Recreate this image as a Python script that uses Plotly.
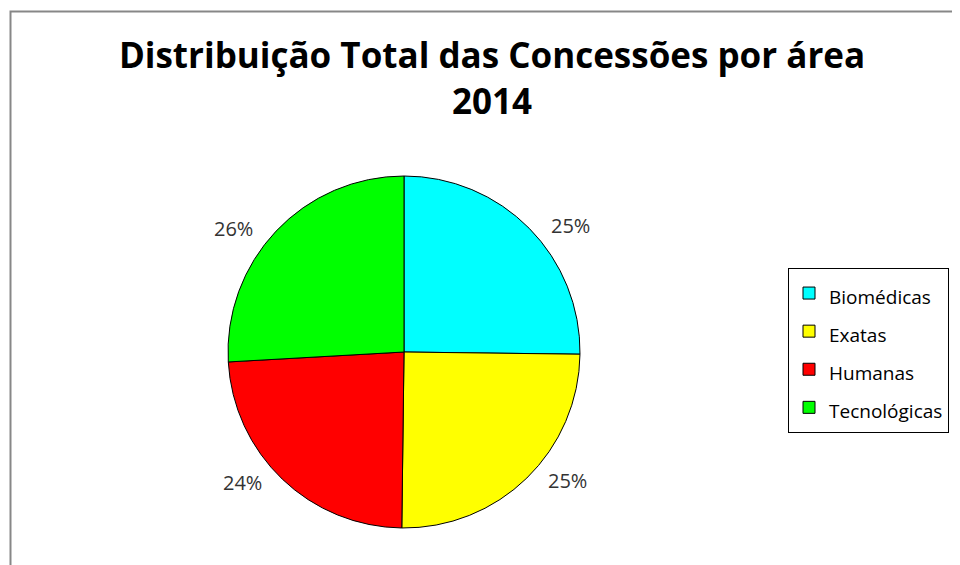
import math
import plotly.graph_objects as go

# ---- data ----
categories = ["Biomédicas", "Exatas", "Humanas", "Tecnológicas"]
values = [25.2, 25.0, 23.9, 25.9]
colors = ["#00FFFF", "#FFFF00", "#FF0000", "#00FF00"]
title_lines = ["Distribuição Total das Concessões por área", "2014"]

W, H = 960, 565
OFF = 8  # page body margin of the browser
FONT = "Open Sans"


def px_x(x):
    return (x - OFF) / W


def px_y(y):
    return 1 - (y - OFF) / H


# pie geometry in screen pixels (layout only)
cx_px, cy_px, r_px = 404, 352, 176
dom_x = [px_x(cx_px - r_px), px_x(cx_px + r_px)]
dom_y = [px_y(cy_px + r_px), px_y(cy_px - r_px)]

fig = go.Figure(
    go.Pie(
        labels=[f'<span style="font-size:19px">{c}</span>' for c in categories],
        values=values,
        marker=dict(colors=colors, line=dict(color="#000000", width=1)),
        sort=False,
        direction="clockwise",
        rotation=0,
        textinfo="none",
        hoverinfo="percent",
        domain=dict(x=dom_x, y=dom_y),
    )
)

# percentage labels placed around the pie, computed from the data
total = sum(values)
cum = 0.0
Rx, Ry = 234, 180
annotations = []
for v in values:
    mid = (cum + v / 2) / total * 2 * math.pi
    cum += v
    pct = round(v / total * 100)
    annotations.append(
        dict(
            x=px_x(cx_px + Rx * math.sin(mid)),
            y=px_y(cy_px - Ry * math.cos(mid)),
            xref="paper", yref="paper",
            text=f"{pct}%", showarrow=False,
            font=dict(family=FONT, size=20, color="#333333"),
            xanchor="center", yanchor="middle",
        )
    )

fig.update_layout(
    width=W,
    height=H,
    margin=dict(l=0, r=0, t=0, b=0),
    paper_bgcolor="white",
    plot_bgcolor="white",
    font=dict(family=FONT, color="#000000"),
    title=dict(
        text="<br>".join(title_lines),
        x=px_x(492),
        xanchor="center",
        y=px_y(68),
        yanchor="top",
        font=dict(family=FONT, size=35, color="#000000", weight="bold"),
    ),
    showlegend=True,
    legend=dict(
        x=px_x(788),
        y=px_y(268),
        xanchor="left",
        yanchor="top",
        bordercolor="#000000",
        borderwidth=1,
        bgcolor="white",
        font=dict(family=FONT, size=27, color="#000000"),
        itemclick=False,
        itemdoubleclick=False,
    ),
    annotations=annotations,
    shapes=[
        dict(
            type="rect", xref="paper", yref="paper",
            x0=px_x(10.5), x1=1.05, y0=-0.05, y1=px_y(11.5),
            line=dict(color="#878787", width=2),
            fillcolor="rgba(0,0,0,0)", layer="below",
        )
    ],
)

fig.write_html("out.html")
